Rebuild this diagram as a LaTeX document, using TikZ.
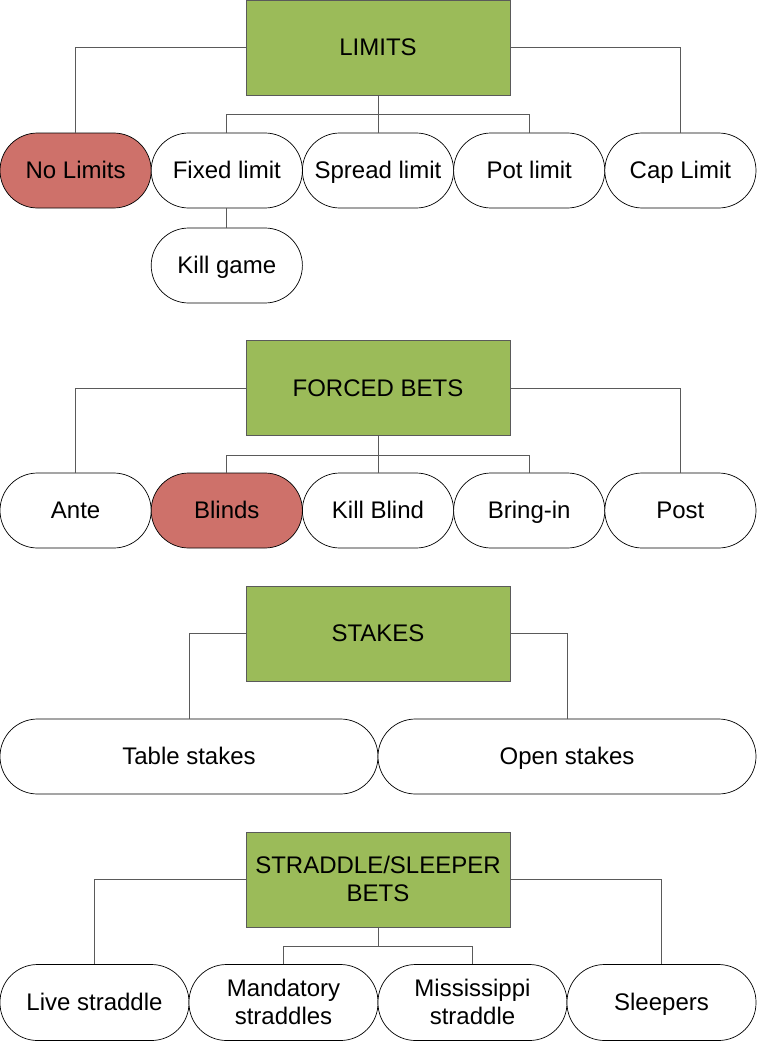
\documentclass[tikz,border=0pt]{standalone}
\usepackage{fontspec}
\setmainfont{Liberation Sans}
\definecolor{headgreen}{RGB}{155,187,89}
\definecolor{pillred}{RGB}{206,113,106}
\definecolor{connc}{RGB}{90,90,90}
\begin{document}
\begin{tikzpicture}[x=1pt,y=-1pt,
  txt/.style={font=\fontsize{24}{28}\selectfont, text height=18pt, text depth=2pt, align=center, inner sep=0pt},
  twoline/.style={text height=46pt, text depth=2pt},
  head/.style={txt, draw=connc, line width=0.8pt, fill=headgreen, minimum width=264pt, minimum height=95pt},
  pill/.style={txt, draw=black, line width=0.7pt, fill=white, minimum height=75pt, minimum width=151.2pt, rounded corners=37.5pt},
  widepill/.style={pill, minimum width=378pt},
  midpill/.style={pill, minimum width=189pt, minimum height=76pt},
  hotpill/.style={fill=pillred},
  conn/.style={draw=connc, line width=0.9pt}]
\useasboundingbox (0,0) rectangle (757,1041);
% Section 1
\node[head] (limits) at (378,47.5) {LIMITS};
\node[pill,hotpill] (nolim) at (75.6,170.5) {No Limits};
\node[pill] (fixed) at (226.8,170.5) {Fixed limit};
\node[pill] (spread) at (378,170.5) {Spread limit};
\node[pill] (pot) at (529.2,170.5) {Pot limit};
\node[pill] (cap) at (680.4,170.5) {Cap Limit};
\node[pill] (kill) at (226.8,265.5) {Kill game};
\coordinate (lb) at (378,114);
\draw[conn] (limits.west) -| (nolim.north);
\draw[conn] (limits.east) -| (cap.north);
\draw[conn] (limits.south) -- (spread.north);
\draw[conn] (fixed.north) -- (fixed.north |- lb) -- (pot.north |- lb) -- (pot.north);
\draw[conn] (fixed.south) -- (kill.north);
% Section 2
\node[head] (forced) at (378,388) {FORCED BETS};
\node[pill] (ante) at (75.6,510.5) {Ante};
\node[pill,hotpill] (blinds) at (226.8,510.5) {Blinds};
\node[pill] (killb) at (378,510.5) {Kill Blind};
\node[pill] (bring) at (529.2,510.5) {Bring-in};
\node[pill] (post) at (680.4,510.5) {Post};
\coordinate (fb) at (378,455);
\draw[conn] (forced.west) -| (ante.north);
\draw[conn] (forced.east) -| (post.north);
\draw[conn] (forced.south) -- (killb.north);
\draw[conn] (blinds.north) -- (blinds.north |- fb) -- (bring.north |- fb) -- (bring.north);
% Section 3
\node[head] (stakes) at (378,633.5) {STAKES};
\node[widepill] (table) at (189,756.5) {Table stakes};
\node[widepill] (open) at (567,756.5) {Open stakes};
\draw[conn] (stakes.west) -| (table.north);
\draw[conn] (stakes.east) -| (open.north);
% Section 4
\node[head,twoline] (straddle) at (378,879.5) {STRADDLE/SLEEPER\\BETS};
\node[midpill] (live) at (94.5,1002.5) {Live straddle};
\node[midpill,twoline] (mand) at (283.5,1002.5) {Mandatory\\straddles};
\node[midpill,twoline] (miss) at (472.5,1002.5) {Mississippi\\straddle};
\node[midpill] (sleep) at (661.5,1002.5) {Sleepers};
\coordinate (sb) at (378,946);
\draw[conn] (straddle.west) -| (live.north);
\draw[conn] (straddle.east) -| (sleep.north);
\draw[conn] (straddle.south) -- (sb);
\draw[conn] (mand.north) -- (mand.north |- sb) -- (miss.north |- sb) -- (miss.north);
\end{tikzpicture}
\end{document}
